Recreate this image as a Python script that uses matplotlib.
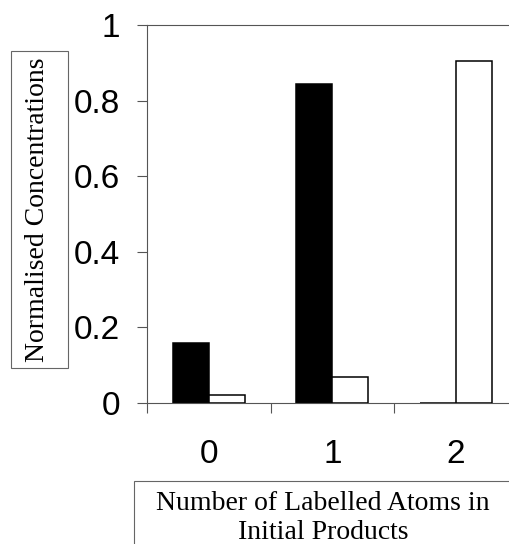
import matplotlib
matplotlib.use('Agg')
import matplotlib.pyplot as plt
from matplotlib.patches import Rectangle
import numpy as np

categories = ['0', '1', '2']
black_vals = [0.16, 0.843, 0.0]
white_vals = [0.022, 0.07, 0.905]
yticks = [0, 0.2, 0.4, 0.6, 0.8, 1]
ytick_labels = ['0', '0.2', '0.4', '0.6', '0.8', '1']
ylabel = 'Normalised Concentrations'
xlabel = 'Number of Labelled Atoms in\nInitial Products'

W, H = 509, 544
fig = plt.figure(figsize=(W / 100, H / 100), dpi=100)
# plot area runs off the right edge a little
ax = fig.add_axes([147 / W, (H - 403) / H, 370.5 / W, 378 / H])

x = np.arange(len(categories))
bw = 0.29
ax.bar(x - bw / 2, black_vals, bw, color='black', edgecolor='black', linewidth=1.1)
ax.bar(x + bw / 2, white_vals, bw, color='white', edgecolor='black', linewidth=1.1)

ax.set_xlim(-0.5, 2.5)
ax.set_ylim(0, 1)

axis_col = '#555555'
for s in ['left', 'top', 'bottom']:
    ax.spines[s].set_color(axis_col)
    ax.spines[s].set_linewidth(0.8)
ax.spines['right'].set_visible(False)

# category boundaries get the tick marks, centres get the labels
ax.set_xticks([-0.5, 0.5, 1.5, 2.5])
ax.set_xticklabels([])
ax.set_xticks(x, minor=True)
ax.set_xticklabels(categories, minor=True, fontsize=24, family='Liberation Sans')
ax.tick_params(axis='x', which='major', direction='out', length=7.2, width=0.8, color=axis_col)
ax.tick_params(axis='x', which='minor', length=0, pad=26)

ax.set_yticks(yticks)
ax.set_yticklabels(ytick_labels, fontsize=24, family='Liberation Sans')
ax.tick_params(axis='y', direction='out', length=7.2, width=0.8, color=axis_col, pad=12)

# boxed axis titles
fig.patches.append(Rectangle((11 / W, (H - 368) / H), 57 / W, 317 / H,
                             transform=fig.transFigure, fill=False,
                             edgecolor='#666666', linewidth=0.8))
fig.text(38 / W, (H - 210) / H, ylabel, rotation=90, ha='center', va='center',
         fontsize=20, family='Liberation Serif')

fig.patches.append(Rectangle((134 / W, -10 / H), 400 / W, (H - 481 + 10) / H,
                             transform=fig.transFigure, fill=False,
                             edgecolor='#666666', linewidth=0.8))
fig.text(323 / W, (H - 518) / H, xlabel, ha='center', va='center',
         fontsize=20, family='Liberation Serif', linespacing=1.25)

fig.savefig('out.png', dpi=100)
